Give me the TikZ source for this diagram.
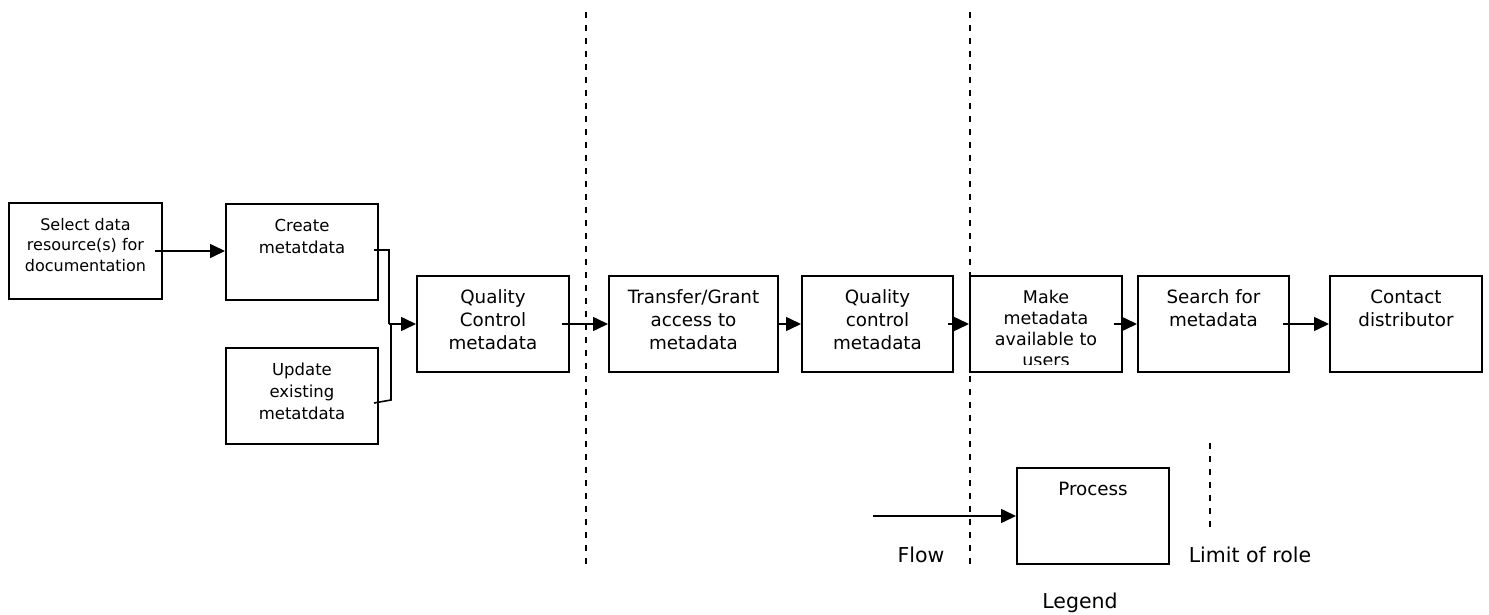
\documentclass[tikz,border=0pt]{standalone}
\usepackage{fontspec}
\setmainfont{DejaVu Sans}
\usetikzlibrary{arrows.meta}
\newcommand{\fsz}[2]{\fontsize{#1}{#2}\selectfont}
\newcommand{\lns}[1]{\begin{tabular}[t]{@{}c@{}}#1\end{tabular}}
\begin{document}
\begin{tikzpicture}[x=1pt, y=-1pt, line cap=butt,
  procbox/.style={draw, line width=2pt, inner sep=0pt, minimum width=#1, text height=27pt, text depth=69pt, font=\fsz{18.3}{23}},
  procbox/.default=152pt,
  flow/.style={line width=1.6pt, -{Triangle[length=15pt, width=14pt]}},
  role/.style={line width=2pt, dash pattern=on 6pt off 7pt}]
\useasboundingbox (0,0) rectangle (1489,615);
% process boxes
\node[procbox=153pt, font=\fsz{16}{20.7}] (sel) at (85.5,251) {\lns{Select data\\resource(s) for\\documentation}};
\node[procbox, font=\fsz{16.5}{22}] (create) at (302,252) {\lns{Create\\metatdata}};
\node[procbox, font=\fsz{16.5}{22}] (update) at (302,396) {\lns{Update\\existing\\metatdata}};
\node[procbox] (qc1) at (493,324) {\lns{Quality\\Control\\metadata}};
\node[procbox=169pt] (transfer) at (693.5,324) {\lns{Transfer/Grant\\access to\\metadata}};
\node[procbox=151pt] (qc2) at (877.5,324) {\lns{Quality\\control\\metadata}};
\node[procbox] (make) at (1046,324) {};
\begin{scope}
\clip (make.north west) rectangle ([yshift=9pt]make.south east);
\node[procbox, draw=none, font=\fsz{17.5}{21}] (maketext) at (make) {\lns{Make\\metadata\\available to\\users}};
\end{scope}
\node[procbox=151pt] (search) at (1213.5,324) {\lns{Search for\\metadata}};
\node[procbox] (contact) at (1406,324) {\lns{Contact\\distributor}};
% flow
\draw[flow] ([xshift=-8pt]sel.east) -- (create.west |- sel.east);
\coordinate (join) at (389,324);
\draw[line width=1.6pt] ([xshift=-5pt, yshift=2pt]create.east) -| (join);
\draw[line width=1.6pt] ([xshift=-5pt, yshift=-7pt]update.east) -- ([xshift=12pt, yshift=-4pt]update.east) |- (join);
\draw[flow] (join) -- (qc1.west);
\draw[flow] ([xshift=-8pt]qc1.east) -- (transfer.west);
\draw[flow] (transfer.east) -- (qc2.west);
\draw[flow] ([xshift=-6pt]qc2.east) -- (make.west);
\draw[flow] ([xshift=-9pt]make.east) -- (search.west);
\draw[flow] ([xshift=-7pt]search.east) -- (contact.west);
% limits of role
\draw[role] (586,12) -- (586,568);
\draw[role] (970,12) -- (970,565);
% legend
\node[procbox] (process) at (1093,516) {\lns{Process}};
\coordinate (flowstart) at (873,516);
\draw[flow] (flowstart) -- (process.west);
\draw[role] (1210,443) -- (1210,533);
\node[font=\fsz{20.5}{24}] (flowlbl) at (921,555) {Flow};
\node[font=\fsz{20.5}{24}] (rolelbl) at (1250,555) {Limit of role};
\node[font=\fsz{20.5}{24}] (legend) at (1080,603) {Legend};
\end{tikzpicture}
\end{document}
